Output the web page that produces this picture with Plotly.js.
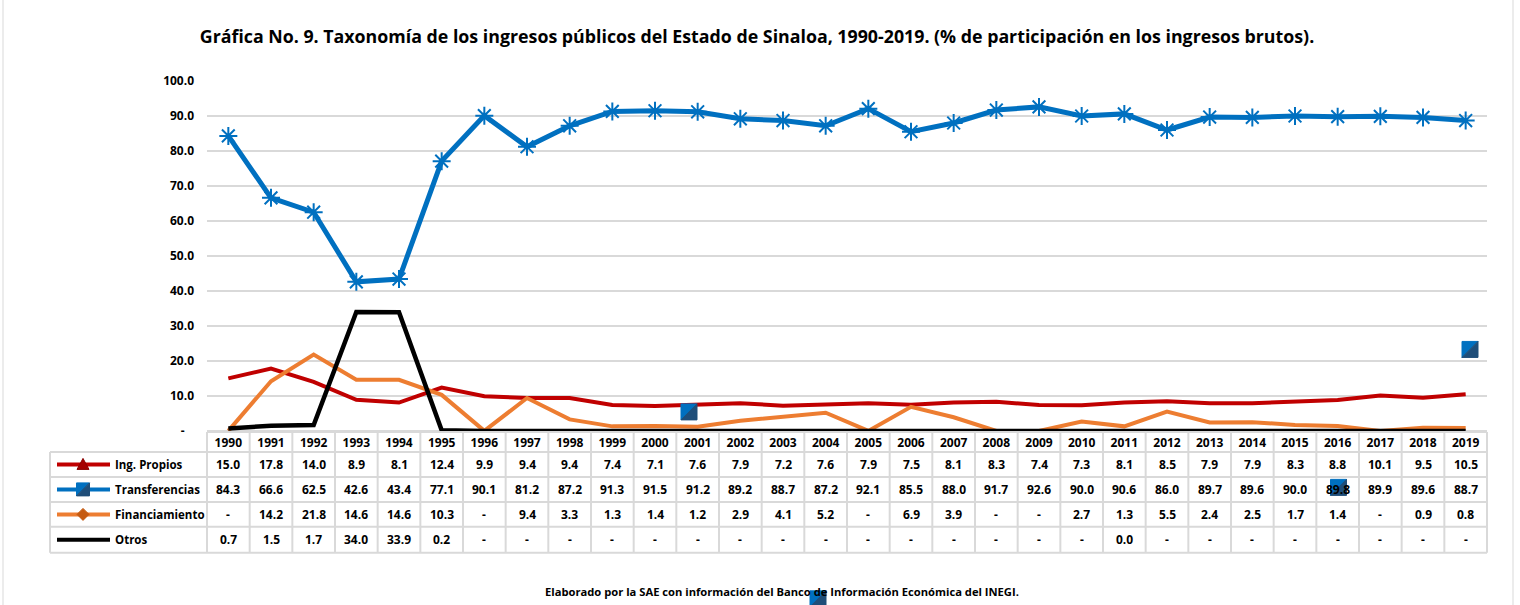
<!DOCTYPE html>
<html>
<head>
<meta charset="utf-8">
<script src="https://cdn.plot.ly/plotly-3.0.1.min.js"></script>
<style>
html,body{margin:0;padding:0;background:#fff;}
#chart{width:1520px;height:605px;}
</style>
</head>
<body>
<div id="chart"></div>
<script>
// ---------- DATA ----------
const years = ['1990','1991','1992','1993','1994','1995','1996','1997','1998','1999','2000','2001','2002','2003','2004','2005','2006','2007','2008','2009','2010','2011','2012','2013','2014','2015','2016','2017','2018','2019'];
const seriesNames = ['Ing. Propios','Transferencias','Financiamiento','Otros'];
const ingPropios = [15.0,17.8,14.0,8.9,8.1,12.4,9.9,9.4,9.4,7.4,7.1,7.6,7.9,7.2,7.6,7.9,7.5,8.1,8.3,7.4,7.3,8.1,8.5,7.9,7.9,8.3,8.8,10.1,9.5,10.5];
const transferencias = [84.3,66.6,62.5,42.6,43.4,77.1,90.1,81.2,87.2,91.3,91.5,91.2,89.2,88.7,87.2,92.1,85.5,88.0,91.7,92.6,90.0,90.6,86.0,89.7,89.6,90.0,89.8,89.9,89.6,88.7];
const financiamiento = [0,14.2,21.8,14.6,14.6,10.3,0,9.4,3.3,1.3,1.4,1.2,2.9,4.1,5.2,0,6.9,3.9,0,0,2.7,1.3,5.5,2.4,2.5,1.7,1.4,0,0.9,0.8];
const otros = [0.7,1.5,1.7,34.0,33.9,0.2,0,0,0,0,0,0,0,0,0,0,0,0,0,0,0,0.01,0,0,0,0,0,0,0,0];
const yTickVals = [0,10,20,30,40,50,60,70,80,90,100];
const yTickText = ['-\u00a0\u00a0\u00a0','10.0','20.0','30.0','40.0','50.0','60.0','70.0','80.0','90.0','100.0'];
const titleText = 'Gráfica No. 9. Taxonomía de los ingresos públicos del Estado de Sinaloa, 1990-2019. (% de participación en los ingresos brutos).';
const sourceText = 'Elaborado por la SAE con información del Banco de Información Económica del INEGI.';

// ---------- STYLE / LAYOUT ----------
const colors = ['#c00000','#0070c0','#ed7d31','#000000'];
const W = 1520, H = 605;
const PL = 207, PR = 1487, PT = 81, PB = 433.1;
const FONT = '"Open Sans", Lato, sans-serif';
const GRID = '#d9d9d9';
const pxX = v => (v - PL) / (PR - PL);
const pxY = v => (PB - v) / (PB - PT);
const fmt = v => v === 0 ? '-' : v.toFixed(1);

const allSeries = [ingPropios, transferencias, financiamiento, otros];
const widths = [4, 5, 4, 4.5];

const traces = allSeries.map((vals, i) => {
  const t = {
    type: 'scatter', mode: i === 1 ? 'lines+markers' : 'lines',
    x: years, y: vals, name: seriesNames[i],
    line: {color: colors[i], width: widths[i]},
    hoverinfo: 'skip', showlegend: false
  };
  if (i === 1) t.marker = {symbol: 'asterisk-open', size: 15, color: colors[1], line: {color: colors[1], width: 2}};
  return t;
});

const shapes = [];
const annotations = [];

// table geometry (pixels)
const rowLines = [432, 452, 477, 502, 527, 553];
const rowCenters = [464.5, 489.5, 514.5, 540];
const legLeft = 50;

// horizontal lines
shapes.push({type:'line', xref:'paper', yref:'paper', x0:pxX(PL), x1:pxX(PR), y0:pxY(rowLines[0]), y1:pxY(rowLines[0]), line:{color:GRID, width:2}});
for (let r = 1; r < rowLines.length; r++) {
  shapes.push({type:'line', xref:'paper', yref:'paper', x0:pxX(legLeft), x1:pxX(PR), y0:pxY(rowLines[r]), y1:pxY(rowLines[r]), line:{color:GRID, width:2}});
}
// vertical lines
shapes.push({type:'line', xref:'paper', yref:'paper', x0:pxX(legLeft), x1:pxX(legLeft), y0:pxY(rowLines[1]), y1:pxY(rowLines[5]), line:{color:GRID, width:2}});
for (let c = 0; c <= years.length; c++) {
  const xp = pxX(PL + c * (PR - PL) / years.length);
  shapes.push({type:'line', xref:'paper', yref:'paper', x0:xp, x1:xp, y0:pxY(rowLines[0]), y1:pxY(rowLines[5]), line:{color:GRID, width:2}});
}
// outer chart border
shapes.push({type:'rect', xref:'paper', yref:'paper', x0:pxX(3), x1:pxX(1513), y0:pxY(615), y1:pxY(-5), line:{color:GRID, width:1}, fillcolor:'rgba(0,0,0,0)', layer:'below'});

// cell values (x = category index on the x axis)
allSeries.forEach((vals, r) => {
  vals.forEach((v, c) => {
    annotations.push({xref:'x', yref:'paper', x: c, y: pxY(rowCenters[r]), text: fmt(v), showarrow:false,
      xanchor:'center', yanchor:'middle', font:{family:FONT, size:12, color:'#000', weight:700}});
  });
  // legend entries
  annotations.push({xref:'paper', yref:'paper', x: pxX(113), y: pxY(rowCenters[r]), text: seriesNames[r], showarrow:false,
    xanchor:'left', yanchor:'middle', font:{family:FONT, size:11.5, color:'#000', weight:700}});
  shapes.push({type:'line', xref:'paper', yref:'paper', x0:pxX(57), x1:pxX(110), y0:pxY(rowCenters[r]), y1:pxY(rowCenters[r]), line:{color:colors[r], width:4}});
});

// legend markers (pixel-sized paths)
function markerShape(cx, cy, path, fill, lineColor) {
  shapes.push({type:'path', xref:'paper', yref:'paper', xsizemode:'pixel', ysizemode:'pixel',
    xanchor: pxX(cx), yanchor: pxY(cy), path: path, fillcolor: fill, line:{color: lineColor, width:1}});
}
function squareIcon(cx, cy, s) {
  const h = s / 2;
  markerShape(cx, cy, `M ${-h} ${h} L ${h} ${h} L ${-h} ${-h} Z`, '#0070c0', '#0070c0');
  markerShape(cx, cy, `M ${h} ${h} L ${h} ${-h} L ${-h} ${-h} Z`, '#1f4e79', '#1f4e79');
}
markerShape(83, rowCenters[0], 'M -6 -5 L 6 -5 L 0 6 Z', '#a50000', '#8b0000');
squareIcon(83, rowCenters[1], 13);
markerShape(83, rowCenters[2], 'M -6 0 L 0 6 L 6 0 L 0 -6 Z', '#c55a11', '#c55a11');
markerShape(83, rowCenters[3], 'M -6 0 A 6 6 0 1 1 6 0 A 6 6 0 1 1 -6 0 Z', '#000', '#000');

// stray marker artifacts present in the reference
squareIcon(689, 412, 16);
squareIcon(1338.5, 487.5, 16);
squareIcon(1470, 349.5, 16);
squareIcon(818, 599, 16);

// source note
annotations.push({xref:'paper', yref:'paper', x: pxX(782), y: pxY(592), text: sourceText, showarrow:false,
  xanchor:'center', yanchor:'middle', font:{family:FONT, size:11.2, color:'#000', weight:700}});

const layout = {
  width: W, height: H,
  paper_bgcolor:'#fff', plot_bgcolor:'#fff',
  margin:{l:PL, r:W-PR, t:PT, b:H-PB, pad:0},
  title:{text: titleText, font:{family:FONT, size:17.8, color:'#000', weight:700}, x: 757/W, xref:'container', xanchor:'center', y: 1 - 37/H, yref:'container', yanchor:'middle'},
  xaxis:{type:'category', range:[-0.5, years.length - 0.5], showgrid:false, zeroline:false, showline:false, ticks:'',
    tickfont:{family:FONT, size:12, color:'#000', weight:700}, ticklabelstandoff:1, fixedrange:true},
  yaxis:{range:[-0.6, 100], tickvals:yTickVals, ticktext:yTickText, showgrid:true, gridcolor:GRID, gridwidth:1.5, zeroline:false, showline:false, ticks:'',
    tickfont:{family:FONT, size:12, color:'#000', weight:700}, ticklabelstandoff:12, fixedrange:true},
  shapes: shapes,
  annotations: annotations,
  showlegend:false
};

Plotly.newPlot('chart', traces, layout, {staticPlot:true, displayModeBar:false});
</script>
</body>
</html>
